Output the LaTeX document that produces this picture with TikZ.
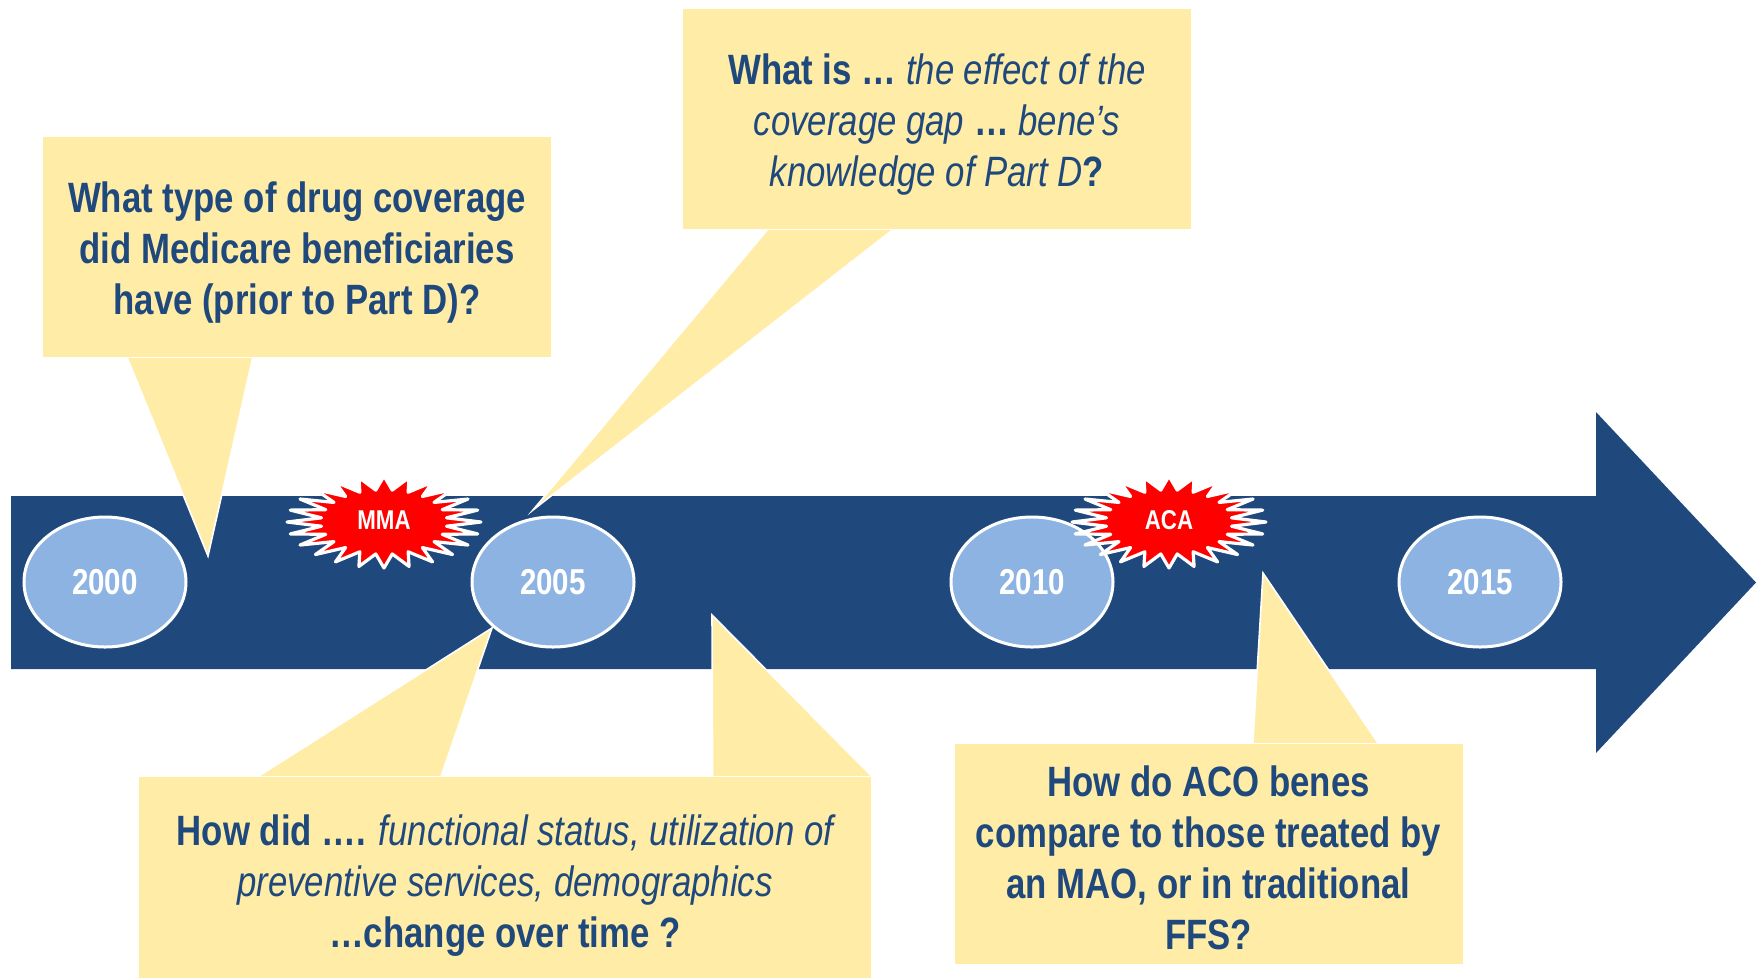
\documentclass[tikz,border=0pt]{standalone}
\usepackage{fontspec}
\setmainfont{Liberation Sans}[FakeStretch=0.82]
\usepackage{tikz}
\usetikzlibrary{shapes.geometric,calc}

\definecolor{navy}{RGB}{31,73,125}
\definecolor{paleblue}{RGB}{141,179,226}
\definecolor{cream}{RGB}{255,236,166}

\newcommand{\qit}[1]{{\mdseries\itshape #1}}

\begin{document}
\begin{tikzpicture}[x=0.25pt, y=-0.25pt,
	box/.style={rectangle, fill=cream, inner sep=0pt, minimum width=127pt, minimum height=55pt},
	qtext/.style={text=navy, align=center, inner sep=0pt,
		font=\fontsize{10.6}{12.75}\selectfont\bfseries},
	tail/.style={fill=cream, draw=white, line width=0.4pt},
	year/.style={ellipse, fill=paleblue, draw=white, line width=0.75pt, inner sep=0pt,
		minimum width=40.5pt, minimum height=32.5pt, text=white,
		font=\fontsize{9}{10}\selectfont\bfseries},
	burst/.style={fill=red, draw=white, line width=0.8pt, line join=round},
	event/.style={text=white, font=\fontsize{6.8}{7.5}\selectfont\bfseries}]
	
	\useasboundingbox (0,0) rectangle (1756,978);
	
	\fill[navy] (11,496) -- (1596,496) -- (1596,412) -- (1756,582.5) -- (1596,753)
		-- (1596,669) -- (11,669) -- cycle;
	
	\node[box] (q1) at (297,247) {};
	\node[box] (q2) at (937,119) {};
	\node[box, minimum width=183pt, minimum height=50.25pt] (q3) at (505,877.5) {};
	\node[box] (q4) at (1208.5,854) {};
	
	\coordinate (t1) at (208,556);
	\coordinate (t2) at (533,510);
	\coordinate (t3) at (492,628);
	\coordinate (t3b) at (712,615);
	\coordinate (t4) at (1263,573);
	
	\path[tail] ($(q1.south west)!0.167!(q1.south east)$) -- (t1) -- ($(q1.south west)!0.413!(q1.south east)$);
	\path[tail] ($(q2.south west)!0.167!(q2.south east)$) -- (t2) -- ($(q2.south west)!0.413!(q2.south east)$);
	\path[tail] ($(q3.north west)!0.164!(q3.north east)$) -- (t3) -- ($(q3.north west)!0.413!(q3.north east)$);
	\path[tail] ($(q3.north west)!0.783!(q3.north east)$) -- (t3b) -- (q3.north east);
	\path[tail] ($(q4.north west)!0.587!(q4.north east)$) -- (t4) -- ($(q4.north west)!0.833!(q4.north east)$);
	
	\node[qtext] (q1text) at (297,253) {What type of drug coverage\\did Medicare beneficiaries\\have (prior to Part D)?};
	\node[qtext] (q2text) at (937,125) {What is … \qit{the effect of the}\\\qit{coverage gap} … \qit{bene’s}\\\qit{knowledge of Part D}?};
	\node[qtext] (q3text) at (505,886) {How did …. \qit{functional status, utilization of}\\\qit{preventive services, demographics}\\…change over time ?};
	\node[qtext] (q4text) at (1208.5,858) {How do ACO benes\\compare to those treated by\\an MAO, or in traditional\\FFS?};
	
	\node[year] (y2000) at (105,582) {2000};
	\node[year] (y2005) at (553,582) {2005};
	\node[year] (y2010) at (1032,582) {2010};
	\node[year] (y2015) at (1480,582) {2015};
	
	\coordinate (mma) at (384,522);
	\coordinate (aca) at (1169,522);
	\foreach \c in {mma,aca}
		\draw[burst, shift={(\c)}] plot[samples at={0,...,47}, variable=\k]
			({97*(1-0.35*mod(\k,2))*cos(7.5*\k)}, {46*(1-0.3*mod(\k,2))*sin(7.5*\k)}) -- cycle;
	
	\node[event] (mmalabel) at (384,520) {MMA};
	\node[event] (acalabel) at (1169,520) {ACA};
	
\end{tikzpicture}
\end{document}
